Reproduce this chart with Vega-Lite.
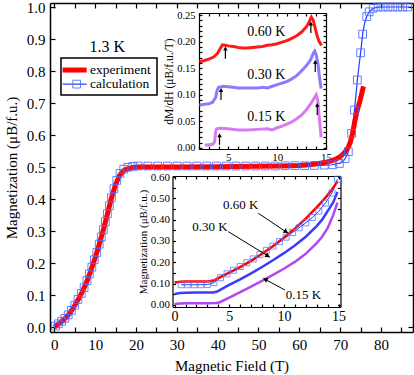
{
"$schema": "https://vega.github.io/schema/vega-lite/v6.json",
"width": 363, "height": 329,
"autosize": {"type": "none"},
"padding": {"left": 50, "top": 3, "right": 1, "bottom": 43},
"background": "white",
"config": {
 "view": {"stroke": null},
 "axis": {"labelFont": "Times New Roman, Liberation Serif, DejaVu Serif, serif", "titleFont": "Times New Roman, Liberation Serif, DejaVu Serif, serif", "labelColor": "black", "titleColor": "black", "domainColor": "black", "tickColor": "black", "grid": false, "titleFontWeight": "normal", "domainWidth": 1.5, "tickWidth": 1.2, "tickSize": -5, "labelPadding": 10, "labelFlush": false, "labelOverlap": false, "labelBound": false},
 "text": {"font": "Times New Roman, Liberation Serif, DejaVu Serif, serif", "color": "black"}
},
"datasets": {
 "main_exp": [{"T":0,"M":0.0},{"T":0.5,"M":0.004},{"T":1,"M":0.009},{"T":2,"M":0.019},{"T":3,"M":0.031},{"T":4,"M":0.047},{"T":5,"M":0.067},{"T":6,"M":0.089},{"T":7,"M":0.114},{"T":8,"M":0.143},{"T":9,"M":0.178},{"T":10,"M":0.216},{"T":11,"M":0.258},{"T":12,"M":0.303},{"T":13,"M":0.353},{"T":14,"M":0.403},{"T":15,"M":0.445},{"T":16,"M":0.474},{"T":17,"M":0.489},{"T":18,"M":0.495},{"T":19,"M":0.498},{"T":20,"M":0.5},{"T":30,"M":0.5},{"T":40,"M":0.501},{"T":50,"M":0.502},{"T":55,"M":0.503},{"T":60,"M":0.505},{"T":63,"M":0.508},{"T":66,"M":0.513},{"T":68,"M":0.52},{"T":69,"M":0.525},{"T":70,"M":0.532},{"T":71,"M":0.544},{"T":72,"M":0.562},{"T":72.5,"M":0.578},{"T":73,"M":0.603},{"T":73.6,"M":0.644},{"T":74.2,"M":0.678},{"T":74.9,"M":0.71},{"T":75.7,"M":0.752}],
 "main_calc": [{"T":0,"M":0.0},{"T":1,"M":0.01},{"T":2,"M":0.02},{"T":3,"M":0.032},{"T":4,"M":0.048},{"T":5,"M":0.068},{"T":6,"M":0.09},{"T":7,"M":0.115},{"T":8,"M":0.145},{"T":9,"M":0.18},{"T":10,"M":0.217},{"T":11,"M":0.259},{"T":12,"M":0.304},{"T":13,"M":0.354},{"T":14,"M":0.404},{"T":15,"M":0.448},{"T":16,"M":0.478},{"T":17,"M":0.493},{"T":18,"M":0.499},{"T":19,"M":0.502},{"T":20,"M":0.503},{"T":40,"M":0.503},{"T":60,"M":0.504},{"T":65,"M":0.505},{"T":68,"M":0.507},{"T":70,"M":0.512},{"T":71,"M":0.522},{"T":71.6,"M":0.535},{"T":72.0,"M":0.548},{"T":72.4,"M":0.572},{"T":72.8,"M":0.605},{"T":73.2,"M":0.645},{"T":73.5,"M":0.678},{"T":73.9,"M":0.73},{"T":74.2,"M":0.772},{"T":74.6,"M":0.815},{"T":75.0,"M":0.857},{"T":75.5,"M":0.915},{"T":76.0,"M":0.95},{"T":76.5,"M":0.97},{"T":77.1,"M":0.985},{"T":78.1,"M":0.996},{"T":79,"M":0.999},{"T":80,"M":1.0},{"T":87.4,"M":1.0}],
 "main_sq": [{"T":0.3,"M":0.003},{"T":1.0,"M":0.01},{"T":1.8,"M":0.018},{"T":2.6,"M":0.027},{"T":3.4,"M":0.038},{"T":4.2,"M":0.052},{"T":5.0,"M":0.068},{"T":5.8,"M":0.086},{"T":6.6,"M":0.105},{"T":7.3,"M":0.123},{"T":8.0,"M":0.145},{"T":8.6,"M":0.166},{"T":9.2,"M":0.187},{"T":9.8,"M":0.21},{"T":10.4,"M":0.233},{"T":11.0,"M":0.259},{"T":11.5,"M":0.281},{"T":12.0,"M":0.304},{"T":12.5,"M":0.329},{"T":13.0,"M":0.354},{"T":13.5,"M":0.379},{"T":14.0,"M":0.404},{"T":14.6,"M":0.432},{"T":15.3,"M":0.458},{"T":16.1,"M":0.48},{"T":17.0,"M":0.493},{"T":18.0,"M":0.499},{"T":19.2,"M":0.502},{"T":20.5,"M":0.503},{"T":22.9,"M":0.503},{"T":25.3,"M":0.503},{"T":27.7,"M":0.503},{"T":30.1,"M":0.503},{"T":32.5,"M":0.503},{"T":34.9,"M":0.503},{"T":37.3,"M":0.503},{"T":39.7,"M":0.503},{"T":42.1,"M":0.503},{"T":44.5,"M":0.503},{"T":46.9,"M":0.503},{"T":49.3,"M":0.503},{"T":51.7,"M":0.503},{"T":54.1,"M":0.503},{"T":56.5,"M":0.504},{"T":58.9,"M":0.504},{"T":61.3,"M":0.504},{"T":63.7,"M":0.505},{"T":66.1,"M":0.506},{"T":68.2,"M":0.507},{"T":69.8,"M":0.511},{"T":71.2,"M":0.526},{"T":72.0,"M":0.548},{"T":72.8,"M":0.605},{"T":73.5,"M":0.678},{"T":74.2,"M":0.772},{"T":75.0,"M":0.857},{"T":75.5,"M":0.915},{"T":76.5,"M":0.97},{"T":77.1,"M":0.985},{"T":78.1,"M":0.996},{"T":79.3,"M":1.0},{"T":80.5,"M":1.0},{"T":81.7,"M":1.0},{"T":82.9,"M":1.0},{"T":84.1,"M":1.0},{"T":85.3,"M":1.0},{"T":86.5,"M":1.0}],
 "up60": [{"T":2.05,"D":0.162},{"T":2.5,"D":0.164},{"T":3.0,"D":0.167},{"T":3.5,"D":0.171},{"T":3.9,"D":0.178},{"T":4.2,"D":0.188},{"T":4.4,"D":0.194},{"T":4.7,"D":0.193},{"T":5.0,"D":0.192},{"T":5.5,"D":0.191},{"T":6.0,"D":0.189},{"T":6.5,"D":0.188},{"T":7.0,"D":0.188},{"T":7.5,"D":0.189},{"T":8.0,"D":0.19},{"T":8.5,"D":0.191},{"T":9.0,"D":0.193},{"T":9.5,"D":0.194},{"T":10.0,"D":0.196},{"T":10.5,"D":0.199},{"T":11.0,"D":0.202},{"T":11.5,"D":0.206},{"T":12.0,"D":0.211},{"T":12.5,"D":0.218},{"T":13.0,"D":0.228},{"T":13.3,"D":0.238},{"T":13.5,"D":0.246},{"T":13.7,"D":0.24},{"T":13.9,"D":0.225},{"T":14.1,"D":0.21},{"T":14.3,"D":0.2},{"T":14.55,"D":0.193}],
 "up30": [{"T":2.05,"D":0.081},{"T":2.5,"D":0.082},{"T":3.0,"D":0.083},{"T":3.4,"D":0.086},{"T":3.7,"D":0.095},{"T":3.85,"D":0.108},{"T":4.0,"D":0.114},{"T":4.5,"D":0.116},{"T":5.0,"D":0.115},{"T":5.5,"D":0.114},{"T":6.0,"D":0.113},{"T":7.0,"D":0.113},{"T":8.0,"D":0.113},{"T":8.5,"D":0.114},{"T":9.0,"D":0.113},{"T":9.5,"D":0.116},{"T":10.0,"D":0.119},{"T":10.5,"D":0.122},{"T":11.0,"D":0.125},{"T":11.5,"D":0.13},{"T":12.0,"D":0.136},{"T":12.5,"D":0.145},{"T":13.0,"D":0.155},{"T":13.4,"D":0.165},{"T":13.7,"D":0.178},{"T":13.85,"D":0.182},{"T":14.0,"D":0.175},{"T":14.2,"D":0.155},{"T":14.35,"D":0.13},{"T":14.5,"D":0.112}],
 "up15": [{"T":2.6,"D":0.005},{"T":3.0,"D":0.006},{"T":3.4,"D":0.007},{"T":3.6,"D":0.012},{"T":3.7,"D":0.03},{"T":3.8,"D":0.036},{"T":4.2,"D":0.037},{"T":5.0,"D":0.036},{"T":6.0,"D":0.034},{"T":7.0,"D":0.034},{"T":8.0,"D":0.035},{"T":9.0,"D":0.036},{"T":9.5,"D":0.034},{"T":10.0,"D":0.038},{"T":10.5,"D":0.041},{"T":11.0,"D":0.045},{"T":11.5,"D":0.049},{"T":12.0,"D":0.055},{"T":12.5,"D":0.062},{"T":13.0,"D":0.072},{"T":13.5,"D":0.085},{"T":13.8,"D":0.094},{"T":14.0,"D":0.1},{"T":14.15,"D":0.09},{"T":14.3,"D":0.06},{"T":14.45,"D":0.03},{"T":14.5,"D":0.02}],
 "up_arrows": [{"T":4.7,"y1":0.168,"y2":0.187},{"T":13.45,"y1":0.216,"y2":0.234},{"T":4.25,"y1":0.09,"y2":0.109},{"T":13.9,"y1":0.143,"y2":0.162},{"T":4.1,"y1":0.006,"y2":0.024},{"T":14.1,"y1":0.062,"y2":0.081}],
 "lo60": [{"T":0,"M":0.105},{"T":0.5,"M":0.109},{"T":1,"M":0.11},{"T":2,"M":0.11},{"T":3,"M":0.11},{"T":3.5,"M":0.113},{"T":4,"M":0.126},{"T":5,"M":0.152},{"T":6,"M":0.178},{"T":7,"M":0.207},{"T":8,"M":0.24},{"T":9,"M":0.275},{"T":10,"M":0.315},{"T":11,"M":0.358},{"T":12,"M":0.405},{"T":13,"M":0.458},{"T":13.5,"M":0.486},{"T":14,"M":0.515},{"T":14.5,"M":0.548},{"T":14.9,"M":0.58}],
 "lo30": [{"T":0,"M":0.052},{"T":0.5,"M":0.056},{"T":1,"M":0.057},{"T":2,"M":0.058},{"T":3,"M":0.058},{"T":3.5,"M":0.059},{"T":3.85,"M":0.062},{"T":4.5,"M":0.08},{"T":5,"M":0.094},{"T":6,"M":0.12},{"T":7,"M":0.148},{"T":8,"M":0.178},{"T":9,"M":0.21},{"T":10,"M":0.243},{"T":11,"M":0.279},{"T":12,"M":0.32},{"T":13,"M":0.37},{"T":13.5,"M":0.4},{"T":14,"M":0.44},{"T":14.5,"M":0.48},{"T":14.9,"M":0.53}],
 "lo15": [{"T":0,"M":0.005},{"T":0.5,"M":0.007},{"T":1,"M":0.008},{"T":2,"M":0.008},{"T":3,"M":0.008},{"T":3.8,"M":0.009},{"T":4.15,"M":0.013},{"T":5,"M":0.035},{"T":6,"M":0.06},{"T":7,"M":0.086},{"T":8,"M":0.113},{"T":9,"M":0.141},{"T":10,"M":0.17},{"T":11,"M":0.202},{"T":12,"M":0.24},{"T":13,"M":0.29},{"T":13.5,"M":0.32},{"T":14,"M":0.36},{"T":14.5,"M":0.42},{"T":14.9,"M":0.48}],
 "lo_calc": [{"T":0.6,"M":0.095},{"T":1.2,"M":0.095},{"T":1.8,"M":0.095},{"T":2.4,"M":0.095},{"T":3.0,"M":0.096},{"T":3.6,"M":0.105},{"T":4.2,"M":0.128},{"T":4.8,"M":0.146},{"T":5.4,"M":0.163},{"T":6.0,"M":0.18},{"T":6.6,"M":0.198},{"T":7.2,"M":0.216},{"T":7.8,"M":0.236},{"T":8.4,"M":0.256},{"T":9.0,"M":0.276},{"T":9.6,"M":0.297},{"T":10.2,"M":0.318},{"T":10.8,"M":0.34},{"T":11.4,"M":0.362},{"T":12.0,"M":0.385},{"T":12.6,"M":0.41},{"T":13.2,"M":0.44},{"T":13.8,"M":0.478},{"T":14.4,"M":0.525},{"T":14.9,"M":0.59}],
 "lo_arrows": [{"x1":7.66,"y1":0.43,"x2":10.4,"y2":0.336},{"x1":4.91,"y1":0.344,"x2":8.73,"y2":0.224},{"x1":10.1,"y1":0.07,"x2":8.12,"y2":0.125}]
},
"layer": [
 {
  "layer": [
   {"data": {"name": "main_calc"}, "mark": {"type": "line", "color": "#1f3dff", "strokeWidth": 1.2},
    "encoding": {
     "x": {"field": "T", "type": "quantitative", "scale": {"domain": [-1.05, 87.83], "nice": false, "zero": false}, "axis": {"orient": "top", "values": [0,5,10,15,20,25,30,35,40,45,50,55,60,65,70,75,80,85], "labels": false, "title": null}},
     "y": {"field": "M", "type": "quantitative", "scale": {"domain": [-0.0156, 1.0125], "nice": false, "zero": false}, "axis": {"orient": "right", "values": [0,0.1,0.2,0.3,0.4,0.5,0.6,0.7,0.8,0.9,1.0], "labels": false, "title": null}}}},
   {"data": {"name": "main_exp"}, "mark": {"type": "line", "color": "#ff0000", "strokeWidth": 5},
    "encoding": {
     "x": {"field": "T", "type": "quantitative", "scale": {"domain": [-1.05, 87.83], "nice": false, "zero": false}, "axis": {"orient": "bottom", "values": [0,5,10,15,20,25,30,35,40,45,50,55,60,65,70,75,80,85], "labelExpr": "datum.value % 10 == 0 ? datum.label : ''", "labelFontSize": 15, "title": "Magnetic Field (T)", "titleFontSize": 15, "titlePadding": 6}},
     "y": {"field": "M", "type": "quantitative", "scale": {"domain": [-0.0156, 1.0125], "nice": false, "zero": false}, "axis": {"orient": "left", "values": [0,0.1,0.2,0.3,0.4,0.5,0.6,0.7,0.8,0.9,1.0], "format": ".1f", "labelFontSize": 15, "title": "Magnetization (μB/f.u.)", "titleFontSize": 15, "titlePadding": 7}}}},
   {"data": {"name": "main_sq"}, "mark": {"type": "point", "shape": "square", "filled": false, "size": 60, "color": "#4a6bff", "strokeWidth": 1, "opacity": 0.85},
    "encoding": {
     "x": {"field": "T", "type": "quantitative", "scale": {"domain": [-1.05, 87.83], "nice": false, "zero": false}, "axis": null},
     "y": {"field": "M", "type": "quantitative", "scale": {"domain": [-0.0156, 1.0125], "nice": false, "zero": false}, "axis": null}}},
   {"data": {"values": [{}]}, "mark": {"type": "rect", "fill": "white", "stroke": "black", "strokeWidth": 1.5},
    "encoding": {
     "x": {"datum": 1.64, "type": "quantitative", "scale": {"domain": [-1.05, 87.83], "nice": false, "zero": false}, "axis": null}, "x2": {"datum": 25.15},
     "y": {"datum": 0.725, "type": "quantitative", "scale": {"domain": [-0.0156, 1.0125], "nice": false, "zero": false}, "axis": null}, "y2": {"datum": 0.8406}}},
   {"data": {"values": [{}]}, "mark": {"type": "rule", "color": "#ff0000", "strokeWidth": 5},
    "encoding": {
     "x": {"datum": 2.03, "type": "quantitative", "scale": {"domain": [-1.05, 87.83], "nice": false, "zero": false}, "axis": null}, "x2": {"datum": 7.93},
     "y": {"datum": 0.803, "type": "quantitative", "scale": {"domain": [-0.0156, 1.0125], "nice": false, "zero": false}, "axis": null}}},
   {"data": {"values": [{}]}, "mark": {"type": "rule", "color": "#1f3dff", "strokeWidth": 1.2},
    "encoding": {
     "x": {"datum": 2.03, "type": "quantitative", "scale": {"domain": [-1.05, 87.83], "nice": false, "zero": false}, "axis": null}, "x2": {"datum": 7.93},
     "y": {"datum": 0.759, "type": "quantitative", "scale": {"domain": [-0.0156, 1.0125], "nice": false, "zero": false}, "axis": null}}},
   {"data": {"values": [{}]}, "mark": {"type": "point", "shape": "square", "filled": false, "size": 60, "color": "#4a6bff", "strokeWidth": 1, "opacity": 0.85},
    "encoding": {
     "x": {"datum": 5.48, "type": "quantitative", "scale": {"domain": [-1.05, 87.83], "nice": false, "zero": false}, "axis": null},
     "y": {"datum": 0.759, "type": "quantitative", "scale": {"domain": [-0.0156, 1.0125], "nice": false, "zero": false}, "axis": null}}},
   {"data": {"values": [{"label": "experiment", "y": 0.804}, {"label": "calculation", "y": 0.758}]}, "mark": {"type": "text", "align": "left", "baseline": "middle", "fontSize": 13.5},
    "encoding": {
     "x": {"datum": 8.74, "type": "quantitative", "scale": {"domain": [-1.05, 87.83], "nice": false, "zero": false}, "axis": null},
     "y": {"field": "y", "type": "quantitative", "scale": {"domain": [-0.0156, 1.0125], "nice": false, "zero": false}, "axis": null},
     "text": {"field": "label"}}},
   {"data": {"values": [{"label": "1.3 K"}]}, "mark": {"type": "text", "align": "center", "baseline": "middle", "fontSize": 16},
    "encoding": {
     "x": {"datum": 13.0, "type": "quantitative", "scale": {"domain": [-1.05, 87.83], "nice": false, "zero": false}, "axis": null},
     "y": {"datum": 0.876, "type": "quantitative", "scale": {"domain": [-0.0156, 1.0125], "nice": false, "zero": false}, "axis": null},
     "text": {"field": "label"}}}
  ],
  "resolve": {"axis": {"x": "independent", "y": "independent"}}
 },
 {
  "layer": [
   {"data": {"name": "up30"}, "mark": {"type": "line", "color": "#8a7cff", "strokeWidth": 3},
    "encoding": {
     "x": {"field": "T", "type": "quantitative", "scale": {"domain": [2, 15], "range": [149, 276], "nice": false, "zero": false}, "axis": {"orient": "top", "offset": -10, "values": [2,3,4,5,6,7,8,9,10,11,12,13,14,15], "labels": false, "title": null, "tickSize": -3, "domainWidth": 1.2}},
     "y": {"field": "D", "type": "quantitative", "scale": {"domain": [-0.0019, 0.2538], "range": [146, 10], "nice": false, "zero": false}, "axis": {"orient": "right", "offset": -87, "values": [0,0.01,0.02,0.03,0.04,0.05,0.06,0.07,0.08,0.09,0.1,0.11,0.12,0.13,0.14,0.15,0.16,0.17,0.18,0.19,0.2,0.21,0.22,0.23,0.24,0.25], "labels": false, "title": null, "tickSize": -3, "domainWidth": 1.2}}}},
   {"data": {"name": "up60"}, "mark": {"type": "line", "color": "#ff1a1a", "strokeWidth": 3},
    "encoding": {
     "x": {"field": "T", "type": "quantitative", "scale": {"domain": [2, 15], "range": [149, 276], "nice": false, "zero": false}, "axis": {"orient": "bottom", "offset": -183, "values": [2,3,4,5,6,7,8,9,10,11,12,13,14,15], "labelExpr": "datum.value % 5 == 0 ? datum.label : ''", "labelFontSize": 11, "tickSize": -3, "labelPadding": 5, "title": null, "domainWidth": 1.2}},
     "y": {"field": "D", "type": "quantitative", "scale": {"domain": [-0.0019, 0.2538], "range": [146, 10], "nice": false, "zero": false}, "axis": {"orient": "left", "offset": -149, "values": [0,0.01,0.02,0.03,0.04,0.05,0.06,0.07,0.08,0.09,0.1,0.11,0.12,0.13,0.14,0.15,0.16,0.17,0.18,0.19,0.2,0.21,0.22,0.23,0.24,0.25], "labelExpr": "round(datum.value*100) % 5 == 0 ? format(datum.value, '.2f') : ''", "labelFontSize": 10.5, "tickSize": -3, "labelPadding": 7, "title": "dM/dH (μB/f.u./T)", "titleFontSize": 11.5, "titlePadding": 2, "domainWidth": 1.2}}}},
   {"data": {"name": "up15"}, "mark": {"type": "line", "color": "#d77cf0", "strokeWidth": 3},
    "encoding": {
     "x": {"field": "T", "type": "quantitative", "scale": {"domain": [2, 15], "range": [149, 276], "nice": false, "zero": false}, "axis": null},
     "y": {"field": "D", "type": "quantitative", "scale": {"domain": [-0.0019, 0.2538], "range": [146, 10], "nice": false, "zero": false}, "axis": null}}},
   {"data": {"name": "up_arrows"}, "mark": {"type": "rule", "color": "black", "strokeWidth": 1.2},
    "encoding": {
     "x": {"field": "T", "type": "quantitative", "scale": {"domain": [2, 15], "range": [149, 276], "nice": false, "zero": false}, "axis": null},
     "y": {"field": "y1", "type": "quantitative", "scale": {"domain": [-0.0019, 0.2538], "range": [146, 10], "nice": false, "zero": false}, "axis": null},
     "y2": {"field": "y2"}}},
   {"data": {"name": "up_arrows"}, "mark": {"type": "point", "shape": "triangle-up", "filled": true, "size": 20, "color": "black", "opacity": 1},
    "encoding": {
     "x": {"field": "T", "type": "quantitative", "scale": {"domain": [2, 15], "range": [149, 276], "nice": false, "zero": false}, "axis": null},
     "y": {"field": "y2", "type": "quantitative", "scale": {"domain": [-0.0019, 0.2538], "range": [146, 10], "nice": false, "zero": false}, "axis": null}}},
   {"data": {"values": [{"label": "0.60 K", "y": 0.219}, {"label": "0.30 K", "y": 0.137}, {"label": "0.15 K", "y": 0.059}]}, "mark": {"type": "text", "align": "center", "baseline": "middle", "fontSize": 14},
    "encoding": {
     "x": {"datum": 8.9, "type": "quantitative", "scale": {"domain": [2, 15], "range": [149, 276], "nice": false, "zero": false}, "axis": null},
     "y": {"field": "y", "type": "quantitative", "scale": {"domain": [-0.0019, 0.2538], "range": [146, 10], "nice": false, "zero": false}, "axis": null},
     "text": {"field": "label"}}}
  ],
  "resolve": {"axis": {"x": "independent", "y": "independent"}}
 },
 {
  "layer": [
   {"data": {"name": "lo30"}, "mark": {"type": "line", "color": "#3b3bff", "strokeWidth": 2.5},
    "encoding": {
     "x": {"field": "T", "type": "quantitative", "scale": {"domain": [-0.19, 15.18], "range": [122.5, 290.5], "nice": false, "zero": false}, "axis": {"orient": "top", "offset": -173, "values": [0,1,2,3,4,5,6,7,8,9,10,11,12,13,14,15], "labels": false, "title": null, "tickSize": -3, "domainWidth": 1.2}},
     "y": {"field": "M", "type": "quantitative", "scale": {"domain": [-0.0094, 0.6047], "range": [304, 173], "nice": false, "zero": false}, "axis": {"orient": "right", "offset": -72.5, "values": [0,0.05,0.1,0.15,0.2,0.25,0.3,0.35,0.4,0.45,0.5,0.55,0.6], "labels": false, "title": null, "tickSize": -3, "domainWidth": 1.2}}}},
   {"data": {"name": "lo15"}, "mark": {"type": "line", "color": "#b347f0", "strokeWidth": 2.5},
    "encoding": {
     "x": {"field": "T", "type": "quantitative", "scale": {"domain": [-0.19, 15.18], "range": [122.5, 290.5], "nice": false, "zero": false}, "axis": {"orient": "bottom", "offset": -25, "values": [0,1,2,3,4,5,6,7,8,9,10,11,12,13,14,15], "labelExpr": "datum.value % 5 == 0 ? datum.label : ''", "labelFontSize": 14, "tickSize": -3, "labelPadding": 5, "title": null, "domainWidth": 1.2}},
     "y": {"field": "M", "type": "quantitative", "scale": {"domain": [-0.0094, 0.6047], "range": [304, 173], "nice": false, "zero": false}, "axis": {"orient": "left", "offset": -122.5, "values": [0,0.05,0.1,0.15,0.2,0.25,0.3,0.35,0.4,0.45,0.5,0.55,0.6], "labelExpr": "round(datum.value*100) % 10 == 0 ? format(datum.value, '.2f') : ''", "labelFontSize": 11, "tickSize": -3, "labelPadding": 6, "title": "Magnetization (μB/f.u.)", "titleFontSize": 11, "titlePadding": 2, "domainWidth": 1.2}}}},
   {"data": {"name": "lo_calc"}, "mark": {"type": "line", "color": "#1f3dff", "strokeWidth": 1},
    "encoding": {
     "x": {"field": "T", "type": "quantitative", "scale": {"domain": [-0.19, 15.18], "range": [122.5, 290.5], "nice": false, "zero": false}, "axis": null},
     "y": {"field": "M", "type": "quantitative", "scale": {"domain": [-0.0094, 0.6047], "range": [304, 173], "nice": false, "zero": false}, "axis": null}}},
   {"data": {"name": "lo60"}, "mark": {"type": "line", "color": "#ff0000", "strokeWidth": 2.5},
    "encoding": {
     "x": {"field": "T", "type": "quantitative", "scale": {"domain": [-0.19, 15.18], "range": [122.5, 290.5], "nice": false, "zero": false}, "axis": null},
     "y": {"field": "M", "type": "quantitative", "scale": {"domain": [-0.0094, 0.6047], "range": [304, 173], "nice": false, "zero": false}, "axis": null}}},
   {"data": {"name": "lo_calc"}, "mark": {"type": "point", "shape": "square", "filled": false, "size": 36, "color": "#5a7bff", "strokeWidth": 1, "opacity": 0.8},
    "encoding": {
     "x": {"field": "T", "type": "quantitative", "scale": {"domain": [-0.19, 15.18], "range": [122.5, 290.5], "nice": false, "zero": false}, "axis": null},
     "y": {"field": "M", "type": "quantitative", "scale": {"domain": [-0.0094, 0.6047], "range": [304, 173], "nice": false, "zero": false}, "axis": null}}},
   {"data": {"name": "lo_arrows"}, "mark": {"type": "rule", "color": "black", "strokeWidth": 1},
    "encoding": {
     "x": {"field": "x1", "type": "quantitative", "scale": {"domain": [-0.19, 15.18], "range": [122.5, 290.5], "nice": false, "zero": false}, "axis": null},
     "x2": {"field": "x2"},
     "y": {"field": "y1", "type": "quantitative", "scale": {"domain": [-0.0094, 0.6047], "range": [304, 173], "nice": false, "zero": false}, "axis": null},
     "y2": {"field": "y2"}}},
   {"data": {"values": [{}]}, "mark": {"type": "point", "shape": "triangle-up", "filled": true, "size": 28, "color": "black", "opacity": 1, "angle": 123.7},
    "encoding": {
     "x": {"datum": 10.2, "type": "quantitative", "scale": {"domain": [-0.19, 15.18], "range": [122.5, 290.5], "nice": false, "zero": false}, "axis": null},
     "y": {"datum": 0.343, "type": "quantitative", "scale": {"domain": [-0.0094, 0.6047], "range": [304, 173], "nice": false, "zero": false}, "axis": null}}},
   {"data": {"values": [{}]}, "mark": {"type": "point", "shape": "triangle-up", "filled": true, "size": 28, "color": "black", "opacity": 1, "angle": 121.5},
    "encoding": {
     "x": {"datum": 8.53, "type": "quantitative", "scale": {"domain": [-0.19, 15.18], "range": [122.5, 290.5], "nice": false, "zero": false}, "axis": null},
     "y": {"datum": 0.23, "type": "quantitative", "scale": {"domain": [-0.0094, 0.6047], "range": [304, 173], "nice": false, "zero": false}, "axis": null}}},
   {"data": {"values": [{}]}, "mark": {"type": "point", "shape": "triangle-up", "filled": true, "size": 28, "color": "black", "opacity": 1, "angle": 298.3},
    "encoding": {
     "x": {"datum": 8.3, "type": "quantitative", "scale": {"domain": [-0.19, 15.18], "range": [122.5, 290.5], "nice": false, "zero": false}, "axis": null},
     "y": {"datum": 0.12, "type": "quantitative", "scale": {"domain": [-0.0094, 0.6047], "range": [304, 173], "nice": false, "zero": false}, "axis": null}}},
   {"data": {"values": [{"label": "0.60 K", "x": 6.05, "y": 0.469}, {"label": "0.30 K", "x": 3.24, "y": 0.367}, {"label": "0.15 K", "x": 11.78, "y": 0.047}]}, "mark": {"type": "text", "align": "center", "baseline": "middle", "fontSize": 13},
    "encoding": {
     "x": {"field": "x", "type": "quantitative", "scale": {"domain": [-0.19, 15.18], "range": [122.5, 290.5], "nice": false, "zero": false}, "axis": null},
     "y": {"field": "y", "type": "quantitative", "scale": {"domain": [-0.0094, 0.6047], "range": [304, 173], "nice": false, "zero": false}, "axis": null},
     "text": {"field": "label"}}}
  ],
  "resolve": {"axis": {"x": "independent", "y": "independent"}}
 }
],
"resolve": {"scale": {"x": "independent", "y": "independent"}}
}
